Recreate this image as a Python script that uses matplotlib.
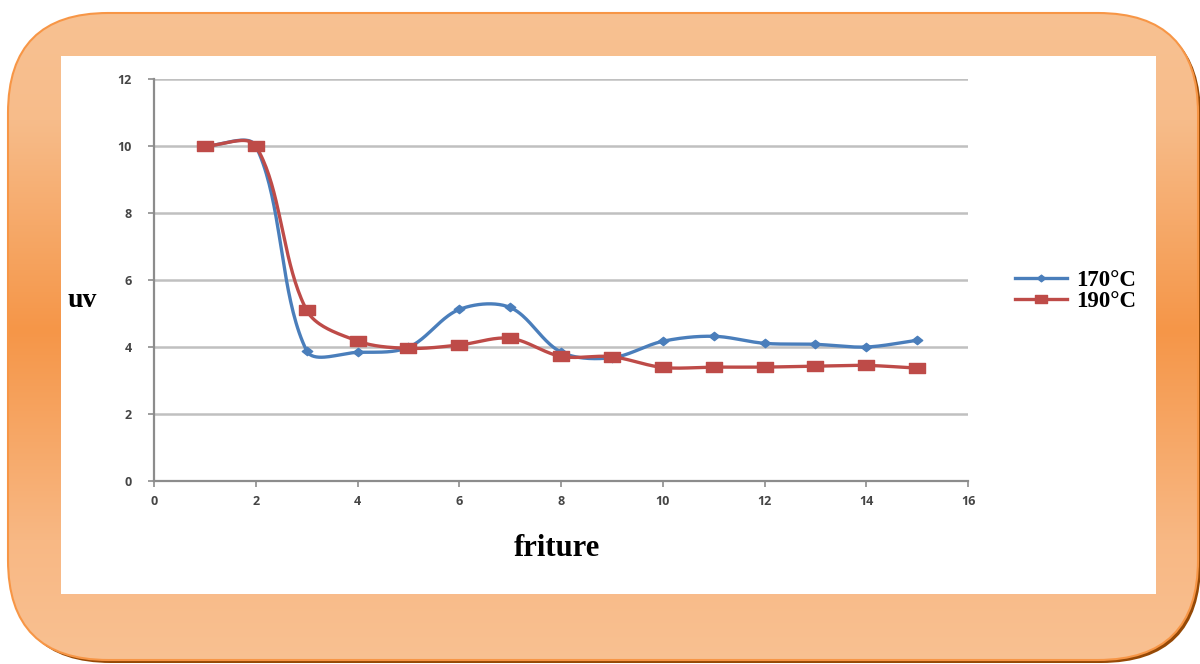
import numpy as np
import matplotlib
matplotlib.use("Agg")
import matplotlib.pyplot as plt
from matplotlib.patches import FancyBboxPatch, Rectangle
from matplotlib.lines import Line2D
from matplotlib.path import Path

# ---- data ----
friture = [1, 2, 3, 4, 5, 6, 7, 8, 9, 10, 11, 12, 13, 14, 15]
uv_170 = [10, 10, 3.89, 3.84, 3.99, 5.12, 5.18, 3.85, 3.68, 4.17, 4.32, 4.11, 4.08, 4.0, 4.2]
uv_190 = [10, 10, 5.1, 4.18, 3.96, 4.06, 4.26, 3.72, 3.71, 3.39, 3.40, 3.40, 3.43, 3.45, 3.37]
series_labels = ["170°C", "190°C"]
x_ticks = list(range(0, 17, 2))
y_ticks = list(range(0, 13, 2))

W, H = 1200, 664
fig = plt.figure(figsize=(W / 100, H / 100), dpi=100)

# ---- decorative frame ----
bg = fig.add_axes([0, 0, 1, 1], zorder=-10)
bg.axis("off")

bx0, by0, bx1, by1, rad = 8, 13, 1198, 660, 100
box = dict(boxstyle=f"round,pad=0,rounding_size={rad}")
shadow = FancyBboxPatch((bx0 + 3, by0 + 3), bx1 - bx0, by1 - by0,
                        facecolor="#964906", edgecolor="none", zorder=1, **box)
bg.add_patch(shadow)
frame = FancyBboxPatch((bx0, by0), bx1 - bx0, by1 - by0,
                       facecolor="none", edgecolor="none", zorder=1, **box)
bg.add_patch(frame)

stops_y = np.array([0, 120, 330, 540, H])
stops_c = np.array([[248, 194, 147], [247, 188, 138], [245, 150, 72],
                    [248, 184, 132], [249, 193, 146]]) / 255.0
yy = np.arange(H)
grad = np.stack([np.interp(yy, stops_y, stops_c[:, k]) for k in range(3)], axis=-1)
grad = grad[:, None, :]
im = bg.imshow(grad, extent=[0, W, H, 0], aspect="auto", interpolation="bilinear",
               zorder=2)
im.set_clip_path(frame)

outline = FancyBboxPatch((bx0, by0), bx1 - bx0, by1 - by0,
                         facecolor="none", edgecolor="#F79646", linewidth=1.5,
                         zorder=3, **box)
bg.add_patch(outline)
bg.add_patch(Rectangle((61, 56), 1156 - 61, 594 - 56, facecolor="white",
                       edgecolor="none", zorder=4))
bg.set_xlim(0, W)
bg.set_ylim(H, 0)

# ---- chart axes ----
ax_l, ax_r, ax_t, ax_b = 154, 968, 79, 481
ax = fig.add_axes([ax_l / W, 1 - ax_b / H, (ax_r - ax_l) / W, (ax_b - ax_t) / H])
ax.set_facecolor("white")
ax.set_xlim(0, 16)
ax.set_ylim(0, 12)
sx = (ax_r - ax_l) / 16.0
sy = (ax_b - ax_t) / 12.0


def smooth_curve(x, y, n=40):
    """Bezier smoothing with chord-weighted tangents, computed in screen units."""
    P = np.column_stack([np.asarray(x, float) * sx, np.asarray(y, float) * sy])
    m = len(P)
    pts = []
    t = np.linspace(0, 1, n)[:, None]
    for i in range(m - 1):
        p0 = P[i - 1] if i > 0 else P[i]
        p1, p2 = P[i], P[i + 1]
        p3 = P[i + 2] if i + 2 < m else P[i + 1]
        d01 = np.linalg.norm(p1 - p0)
        d12 = np.linalg.norm(p2 - p1)
        d23 = np.linalg.norm(p3 - p2)
        f1 = d12 / (d01 + d12)
        f2 = d12 / (d12 + d23)
        c1 = p1 + (p2 - p0) * f1 / 3
        c2 = p2 - (p3 - p1) * f2 / 3
        seg = ((1 - t) ** 3) * p1 + 3 * ((1 - t) ** 2) * t * c1 \
            + 3 * (1 - t) * t ** 2 * c2 + t ** 3 * p2
        pts.append(seg if i == 0 else seg[1:])
    pts = np.vstack(pts)
    return pts[:, 0] / sx, pts[:, 1] / sy


diamond = Path([(-1.25, 0), (0, 1), (1.25, 0), (0, -1), (-1.25, 0)],
               [Path.MOVETO, Path.LINETO, Path.LINETO, Path.LINETO, Path.CLOSEPOLY])
rect = Path([(-1.4, -1), (1.4, -1), (1.4, 1), (-1.4, 1), (-1.4, -1)],
            [Path.MOVETO, Path.LINETO, Path.LINETO, Path.LINETO, Path.CLOSEPOLY])

blue, red = "#4A7EBB", "#BE4B48"
styles = [(uv_170, blue, diamond, 7.5), (uv_190, red, rect, 11)]
handles = []
for (vals, col, mk, ms), lab in zip(styles, series_labels):
    xs, ys = smooth_curve(friture, vals)
    ax.plot(xs, ys, color=col, lw=2.4, solid_capstyle="round", zorder=3)
    ax.plot(friture, vals, ls="none", marker=mk, ms=ms, color=col,
            markeredgecolor=col, zorder=4)
    handles.append(Line2D([], [], color=col, lw=2.4, marker=mk, ms=ms * 0.8,
                          markeredgecolor=col))

# grid and axes styling
for v in y_ticks[1:]:
    ax.axhline(v, color="#C0C0C0", lw=1.8, zorder=1)
for side in ("top", "right"):
    ax.spines[side].set_visible(False)
for side in ("left", "bottom"):
    ax.spines[side].set_color("#8C8C8C")
    ax.spines[side].set_linewidth(1.6)
ax.set_xticks(x_ticks)
ax.set_yticks(y_ticks)
ax.tick_params(axis="both", direction="out", length=4, width=1.2, color="#8C8C8C",
               labelsize=9, labelcolor="#454545")
for lbl in ax.get_xticklabels() + ax.get_yticklabels():
    lbl.set_fontweight("bold")
    lbl.set_fontfamily("Open Sans")
ax.tick_params(axis="y", pad=12)
ax.tick_params(axis="x", pad=6)

# axis titles
fig.text(82 / W, 1 - 300 / H, "uv", family="Liberation Serif", fontweight="bold",
         fontsize=20, ha="center", va="center")
fig.text(557 / W, 1 - 548 / H, "friture", family="Liberation Serif", fontweight="bold",
         fontsize=22, ha="center", va="center")

leg = fig.legend(handles, series_labels, loc="center left",
                 bbox_to_anchor=(994 / W, 1 - 291 / H), frameon=False,
                 prop={"family": "Liberation Serif", "weight": "bold", "size": 16.5},
                 handlelength=2.3, handletextpad=0.4, labelspacing=0.0)

fig.savefig("out.png", dpi=100)
